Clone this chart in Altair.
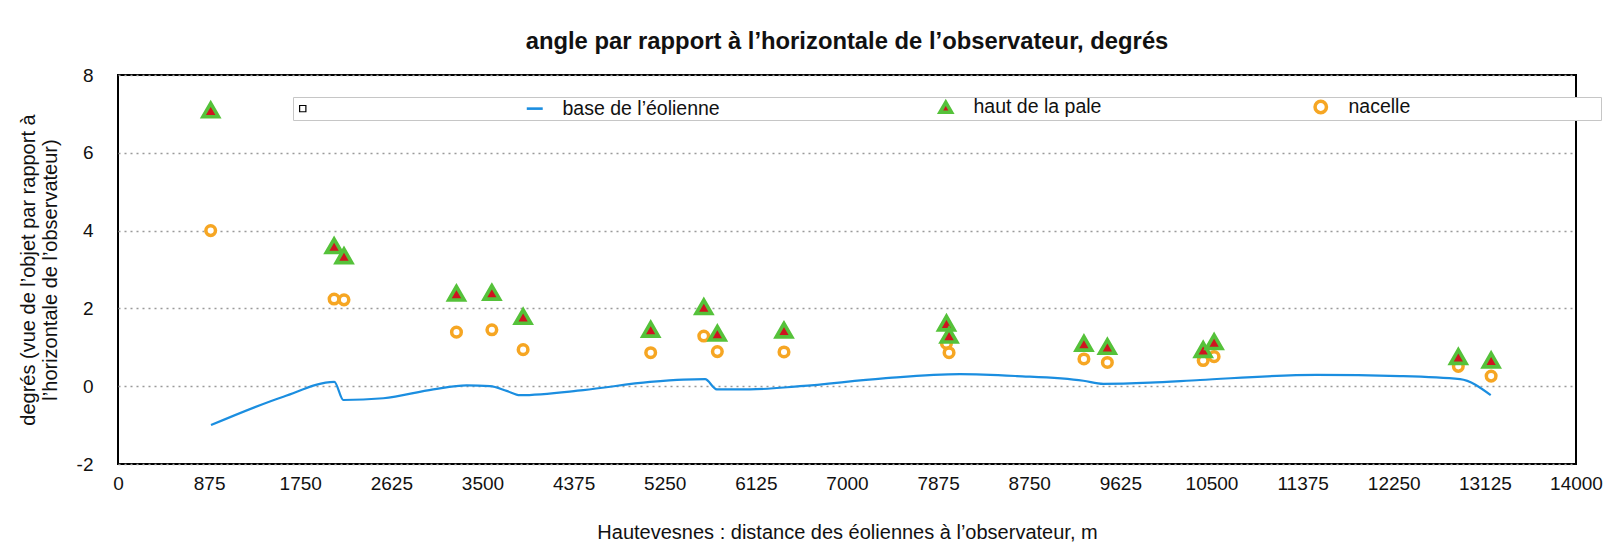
import altair as alt
import pandas as pd

FONT = "Liberation Sans"

# --- data ---------------------------------------------------------------
distance = [890, 2075, 2170, 3250, 3590, 3890, 5115, 5625, 5755, 6395,
            7955, 7980, 9275, 9500, 10420, 10525, 12870, 13185]
haut_pale = [7.1, 3.61, 3.35, 2.39, 2.41, 1.79, 1.46, 2.04, 1.36, 1.44,
             1.62, 1.31, 1.10, 1.02, 0.94, 1.14, 0.76, 0.67]
nacelle = [4.0, 2.24, 2.22, 1.39, 1.45, 0.94, 0.86, 1.29, 0.89, 0.88,
           1.10, 0.86, 0.70, 0.61, 0.66, 0.76, 0.51, 0.26]

base_distance = [893, 1588, 2077, 2164, 2548, 3028, 3348, 3572, 3732, 3860,
                 4468, 5108, 5429, 5637, 5749, 6069, 6549, 7349, 8085, 8630,
                 9270, 9461, 9910, 10390, 11510, 12310, 12887, 13181]
base_angle = [-1.0, -0.27, 0.11, -0.355, -0.31, -0.08, 0.02, 0.0, -0.12, -0.23,
              -0.10, 0.11, 0.17, 0.18, -0.08, -0.08, 0.0, 0.20, 0.31, 0.26,
              0.14, 0.06, 0.09, 0.16, 0.29, 0.26, 0.18, -0.23]

x_ticks = [0, 875, 1750, 2625, 3500, 4375, 5250, 6125, 7000, 7875,
           8750, 9625, 10500, 11375, 12250, 13125, 14000]
y_ticks = [-2, 0, 2, 4, 6, 8]

S_BASE = "base de l\u2019éolienne"
S_HAUT = "haut de la pale"
S_NAC = "nacelle"
# legend entries: an empty square entry, the three series, and blank spacers
series_domain = ["_sq", S_BASE, "_f1", S_HAUT, "_f2", S_NAC, "_f3"]

BLUE = "#1b8ee0"
GREEN = "#55c23a"
RED = "#cf1420"
ORANGE = "#f6a623"
T = "transparent"

points = pd.DataFrame(
    {"distance": distance * 2,
     "angle": haut_pale + nacelle,
     "serie": [S_HAUT] * len(distance) + [S_NAC] * len(distance)}
)
base = pd.DataFrame({"distance": base_distance, "angle": base_angle,
                     "serie": [S_BASE] * len(base_distance)})

# invisible spacer labels (drawn transparent) that set the legend's spacing
label_expr = (
    "datum.label == '_sq' ? '" + "0" * 17 + ".' : "
    "datum.label == '_f1' ? '" + "0" * 16 + "' : "
    "datum.label == '_f2' ? '" + "0" * 15 + ".' : "
    "datum.label == '_f3' ? '" + "0" * 14 + "' : datum.label"
)
label_color = "indexof(['_sq', '_f1', '_f2', '_f3'], datum.label) >= 0 ? 'transparent' : '#111'"

legend = alt.Legend(
    orient="none", legendX=175, legendY=22, direction="horizontal", columns=7,
    title=None, labelFont=FONT, labelFontSize=19.5, labelLimit=1000,
    labelColor=alt.ExprRef(expr=label_color),
    symbolSize=130, columnPadding=0, padding=0, labelOffset=18,
    strokeColor="#c6c6c6", fillColor="white", labelExpr=label_expr,
)

fill_scale = alt.Scale(domain=series_domain,
                       range=["white", T, T, RED, T, "white", T])
stroke_scale = alt.Scale(domain=series_domain,
                         range=["black", BLUE, T, GREEN, T, ORANGE, T])
shape_scale = alt.Scale(domain=series_domain,
                        range=["M-0.55,-0.55H0.55V0.55H-0.55Z", "M-1.4,0H1.4", "circle",
                               "triangle-up", "circle", "circle", "circle"])
sw_scale = alt.Scale(type="ordinal", domain=series_domain,
                     range=[1.2, 2.6, 0, 3.6, 0, 3.5, 0])

x_enc = alt.X("distance:Q",
              scale=alt.Scale(domain=[0, 14000], nice=False, zero=False),
              axis=alt.Axis(values=x_ticks, format="d", grid=False, domain=False,
                            ticks=False, labelPadding=10, labelFontSize=19,
                            labelFont=FONT, labelColor="#111",
                            title="Hautevesnes : distance des éoliennes à l\u2019observateur, m",
                            titleFont=FONT, titleFontSize=20, titleFontWeight="normal",
                            titleColor="#111", titlePadding=29,
                            labelFlush=False))
y_enc = alt.Y("angle:Q",
              scale=alt.Scale(domain=[-2, 8], nice=False, zero=False),
              axis=alt.Axis(values=y_ticks, grid=True, gridDash=[2, 4],
                            gridColor="#9a9a9a", gridWidth=1.6, domain=False,
                            ticks=False, labelPadding=25, labelFontSize=19,
                            labelFont=FONT, labelColor="#111",
                            labelExpr="datum.value + ''",
                            title=["degrés (vue de l\u2019objet par rapport à",
                                   "l\u2019horizontale de l\u2019observateur)"],
                            titleFont=FONT, titleFontSize=20, titleFontWeight="normal",
                            titleColor="#111", titleLineHeight=22, titlePadding=16))

line = alt.Chart(base).mark_line(interpolate="monotone", strokeWidth=2.2, opacity=1).encode(
    x=x_enc, y=y_enc,
    stroke=alt.Stroke("serie:N", scale=stroke_scale, legend=legend),
)

circles = alt.Chart(points).transform_filter(
    alt.datum.serie == S_NAC
).mark_point(size=92, opacity=1).encode(
    x=x_enc, y=y_enc,
    fill=alt.Fill("serie:N", scale=fill_scale, legend=legend),
    stroke=alt.Stroke("serie:N", scale=stroke_scale, legend=legend),
    shape=alt.Shape("serie:N", scale=shape_scale, legend=legend),
    strokeWidth=alt.StrokeWidth("serie:N", scale=sw_scale, legend=legend),
)

triangles = alt.Chart(points).transform_filter(
    alt.datum.serie == S_HAUT
).mark_point(size=240, opacity=1).encode(
    x=x_enc, y=y_enc,
    fill=alt.Fill("serie:N", scale=fill_scale, legend=legend),
    stroke=alt.Stroke("serie:N", scale=stroke_scale, legend=legend),
    shape=alt.Shape("serie:N", scale=shape_scale, legend=legend),
    strokeWidth=alt.StrokeWidth("serie:N", scale=sw_scale, legend=legend),
)

chart = alt.layer(line, circles, triangles).properties(
    width=1458, height=389,
    background="white",
    title=alt.Title("angle par rapport à l\u2019horizontale de l\u2019observateur, degrés",
                    font=FONT, fontSize=23.8, fontWeight="bold", color="#111",
                    anchor="middle", offset=12),
    autosize=alt.AutoSizeParams(type="none"),
    padding={"left": 110, "top": 67, "right": 34, "bottom": 81},
).configure_view(
    stroke="black", strokeWidth=2
)

chart.save("out.html", embed_options={"renderer": "svg", "actions": False})
